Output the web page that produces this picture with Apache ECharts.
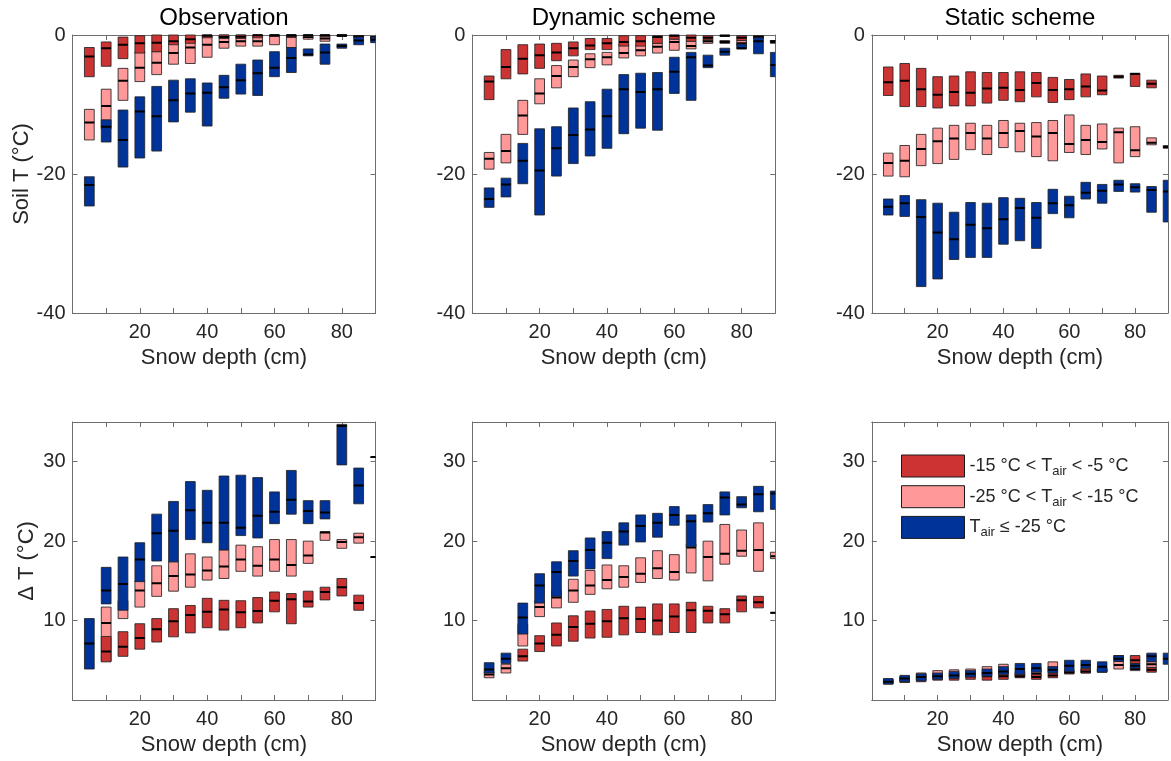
<!DOCTYPE html>
<html><head><meta charset="utf-8">
<script src="https://cdn.jsdelivr.net/npm/echarts@6/dist/echarts.min.js"></script>
<style>html,body{margin:0;padding:0;background:#fff}#c{width:1171px;height:761px}</style>
</head><body><div id="c"></div>
<script>
// Snow depth bins (cm)
const depths = [5,10,15,20,25,30,35,40,45,50,55,60,65,70,75,80,85,90];
const titles = ['Observation','Dynamic scheme','Static scheme'];
const xTickLabels = [20,40,60,80];
const soilTickLabels = [0,-20,-40];
const dtTickLabels = [10,20,30];
const legendLabels = {
  red: '-15 °C < T{sub|air} < -5 °C',
  pink: '-25 °C < T{sub|air} < -15 °C',
  blue: 'T{sub|air} ≤ -25 °C'
};
// each entry: [lower, median, upper] per depth
const obsSoilRed = [[-6.0,-3.1,-1.8],[-4.5,-1.9,-1.0],[-3.4,-1.4,-0.3],[-2.6,-1.2,-0.1],[-2.4,-1.1,0],[-1.4,-0.9,0],[-1.2,-0.6,0],[-0.4,-0.1,0],[-0.5,-0.3,0],[-0.5,-0.25,0],[-0.4,-0.05,0],[-0.2,-0.05,0],[-0.2,-0.05,0],[-0.2,-0.05,0],[-0.2,-0.05,0],[-0.1,-0.05,0],[-0.3,-0.2,-0.1],[-0.4,-0.3,-0.2]];
const obsSoilPink = [[-15.1,-12.6,-10.7],[-13.5,-10.2,-7.8],[-9.4,-6.6,-4.8],[-6.7,-4.7,-2.4],[-5.7,-4.0,-2.4],[-4.2,-2.6,-1.1],[-4.1,-1.8,-0.5],[-3.2,-1.4,0],[-1.9,-1.0,0],[-1.6,-0.9,0],[-1.6,-0.9,0],[-1.4,-0.1,0],[-1.8,-0.25,0],[-0.6,-0.3,0],[-0.9,-0.5,0],[-0.2,-0.1,0],[-0.4,-0.25,-0.1],[-0.6,-0.4,-0.3]];
const obsSoilBlue = [[-24.6,-21.6,-20.4],[-15.4,-13.2,-12.2],[-19.0,-15.1,-10.8],[-17.7,-11.0,-8.9],[-16.7,-11.7,-7.4],[-12.5,-9.4,-6.5],[-11.1,-8.4,-6.3],[-13.1,-8.3,-6.9],[-9.1,-7.5,-5.8],[-8.5,-6.5,-4.2],[-8.7,-5.5,-3.6],[-6.0,-4.7,-2.4],[-5.4,-3.3,-1.8],[-3.0,-2.8,-2.0],[-4.2,-2.5,-1.3],[-1.9,-1.6,-1.3],[-1.4,-0.8,-0.3],[-1.1,-0.7,-0.3]];

const dynSoilRed = [[-9.3,-6.7,-5.9],[-6.3,-4.6,-2.1],[-5.6,-3.4,-1.4],[-4.8,-2.9,-1.3],[-3.7,-2.5,-1.2],[-3.0,-1.9,-1.0],[-2.1,-1.5,-0.5],[-2.1,-1.2,-0.5],[-1.6,-1.0,-0.1],[-1.6,-0.9,-0.1],[-1.2,-0.3,-0.1],[-0.6,-0.1,0],[-0.9,-0.4,0],[-0.7,-0.4,-0.1],[-0.2,-0.1,0],[-0.8,-0.4,-0.1],[-0.5,-0.3,-0.1],[-1.0,-0.9,-0.8]];
const dynSoilPink = [[-19.3,-17.8,-16.9],[-18.4,-16.7,-14.3],[-14.3,-11.6,-9.4],[-9.9,-8.4,-6.3],[-7.6,-5.9,-4.4],[-6.0,-4.6,-3.6],[-4.7,-3.5,-2.7],[-4.3,-3.2,-2.5],[-3.3,-2.6,-1.3],[-3.0,-2.2,-1.4],[-2.6,-1.7,-1.2],[-2.2,-1.0,-0.6],[-2.0,-1.6,-0.9],[-1.2,-0.9,-0.7],[-1.2,-1.0,-0.8],[-1.5,-1.2,-0.8],[-0.5,-0.3,-0.1],[-1.2,-1.0,-0.8]];
const dynSoilBlue = [[-24.8,-23.6,-22.0],[-23.3,-21.5,-20.6],[-21.4,-18.1,-15.6],[-25.9,-19.5,-13.5],[-20.3,-16.3,-13.2],[-18.5,-14.4,-10.5],[-17.4,-13.6,-9.6],[-16.3,-11.7,-7.8],[-14.2,-7.8,-5.7],[-13.4,-8.2,-5.5],[-13.7,-7.8,-5.4],[-8.4,-5.3,-3.2],[-9.4,-3.2,-2.5],[-4.7,-4.4,-2.9],[-2.9,-2.4,-1.9],[-2.0,-1.9,-1.3],[-2.7,-0.9,-0.4],[-6.0,-4.3,-2.5]];

const statSoilRed = [[-8.7,-6.8,-4.6],[-10.3,-6.6,-4.1],[-10.3,-7.8,-4.8],[-10.5,-8.6,-6.0],[-10.2,-8.2,-5.9],[-10.2,-8.3,-5.3],[-9.8,-7.7,-5.4],[-9.4,-7.6,-5.4],[-9.6,-7.9,-5.3],[-8.9,-6.9,-5.4],[-9.7,-7.9,-6.1],[-9.3,-7.8,-6.4],[-8.9,-7.4,-5.6],[-8.6,-8.0,-5.9],[-6.2,-6.0,-5.8],[-7.4,-5.6,-5.5],[-7.6,-7.0,-6.5],null];
const statSoilPink = [[-20.3,-18.4,-17.0],[-20.4,-18.1,-15.9],[-18.8,-16.4,-14.3],[-18.5,-15.3,-13.4],[-17.9,-14.9,-13.0],[-16.5,-14.1,-12.7],[-17.2,-14.9,-13.0],[-16.2,-14.1,-12.3],[-16.8,-13.8,-12.7],[-17.5,-14.6,-12.6],[-18.1,-14.1,-12.3],[-16.9,-15.7,-11.5],[-17.2,-15.1,-13.0],[-16.4,-15.4,-12.8],[-18.4,-14.0,-13.4],[-17.5,-16.6,-13.2],[-15.8,-15.5,-14.8],[-16.3,-16.1,-15.9]];
const statSoilBlue = [[-25.9,-24.7,-23.6],[-26.1,-24.2,-23.1],[-36.2,-26.2,-23.7],[-35.1,-28.4,-24.2],[-32.3,-29.4,-25.5],[-32.0,-27.3,-24.1],[-32.0,-27.8,-24.2],[-30.1,-26.5,-23.4],[-29.6,-24.9,-23.5],[-30.7,-26.3,-24.1],[-25.7,-24.2,-22.2],[-26.3,-24.5,-23.2],[-23.6,-22.7,-21.2],[-24.2,-22.4,-21.5],[-22.5,-21.5,-20.9],[-22.6,-21.9,-21.4],[-25.5,-22.3,-21.8],[-26.9,-22.5,-20.9]];

const obsDTRed = [null,[4.8,6.1,8.0],[5.5,6.7,8.6],[6.4,7.8,9.6],[7.3,8.9,10.25],[7.95,9.9,11.5],[8.45,10.7,11.9],[9.1,11.1,12.8],[8.8,11.4,12.55],[9.1,11.05,12.5],[9.7,11.2,12.9],[11.1,12.5,13.6],[9.6,12.7,13.4],[11.7,12.4,13.7],[12.6,13.6,14.2],[13.1,14.2,15.3],[11.3,12.2,13.2],null];
const obsDTPink = [null,[4.9,9.7,11.7],[10.25,11.8,12.5],[11.7,13.8,15.0],[13.05,14.7,16.9],[13.7,15.6,17.4],[14.2,15.8,18.4],[15.1,16.3,18.0],[15.3,16.8,18.9],[16.2,17.7,19.5],[15.6,16.9,19.3],[16.2,17.7,20.2],[15.6,17.0,20.2],[17.2,18.2,20.0],[20.1,21.1,21.2],[19.1,19.9,20.2],[19.75,20.5,21.0],[18.0,18.0,18.0]];
const obsDTBlue = [[3.9,7.1,10.25],[12.1,13.8,16.7],[11.3,14.6,18.0],[14.9,17.7,19.8],[17.5,21.0,23.4],[17.4,21.3,25.0],[20.2,23.9,27.5],[19.8,22.3,26.4],[18.9,22.3,28.2],[20.7,21.7,28.3],[20.4,23.2,28.0],[22.2,23.7,26.2],[23.4,25.2,28.9],[22.2,23.8,25.1],[22.8,23.6,25.1],[29.6,34.5,34.7],[24.7,27.0,29.2],[30.6,30.6,30.6]];

const dynDTRed = [null,null,[4.9,5.5,6.4],[6.1,7.1,8.1],[6.8,8.2,9.7],[7.4,9.2,10.6],[7.8,9.6,11.2],[7.9,9.9,11.4],[8.2,10.3,11.8],[8.5,10.2,11.7],[8.2,10.0,12.1],[8.5,10.5,12.1],[8.5,11.3,12.3],[9.7,11.25,11.8],[9.7,10.8,11.5],[11.1,12.55,13.1],[11.6,12.3,13.05],[11.0,11.0,11.0]];
const dynDTPink = [[2.8,3.2,3.6],[3.4,4.0,4.5],[6.8,8.6,9.5],[10.5,11.7,12.5],[11.6,12.9,13.8],[12.3,13.8,15.2],[13.3,14.4,16.3],[14.0,15.1,17.0],[14.2,15.5,16.9],[14.8,15.9,17.9],[15.3,16.6,18.8],[15.1,16.1,18.3],[16.0,19.2,19.6],[15.0,18.0,20.0],[17.1,18.4,22.1],[18.1,18.8,21.4],[16.2,18.9,22.3],[17.8,18.1,18.6]];
const dynDTBlue = [[3.4,3.85,4.7],[4.6,5.2,5.9],[8.3,10.4,12.2],[12.2,14.4,15.9],[13.05,16.1,17.4],[15.6,17.5,18.8],[16.5,18.9,20.4],[17.8,19.8,21.2],[19.5,21.2,22.3],[19.9,21.9,23.3],[20.5,22.3,23.5],[22.0,23.3,24.35],[19.3,22.5,23.3],[22.4,23.5,24.6],[23.3,25.5,26.2],[24.2,24.6,25.6],[23.7,25.9,26.9],[24.0,26.0,26.3]];

const statDTRed = [[2.0,2.3,2.6],[2.2,2.6,2.9],[2.3,2.8,3.2],[2.5,2.9,3.3],[2.5,3.0,3.4],[2.6,3.0,3.4],[2.5,3.0,3.5],[2.6,3.0,3.6],[2.8,3.0,3.3],[2.6,2.9,3.2],[2.8,3.1,3.4],[3.3,3.5,3.7],[3.4,3.6,3.9],[3.5,3.7,4.0],[4.9,5.3,5.6],[4.6,5.0,5.6],[3.5,3.8,4.1],null];
const statDTPink = [[2.1,2.35,2.6],[2.3,2.7,3.0],[2.5,3.0,3.4],[2.8,3.2,3.7],[2.9,3.3,3.8],[3.0,3.5,3.9],[3.2,3.6,4.2],[3.3,3.8,4.5],[2.9,3.1,3.6],[3.0,3.3,3.9],[3.5,4.1,4.8],[3.3,3.5,3.7],[3.4,3.7,4.0],[3.6,3.75,3.9],[3.9,4.4,4.85],[3.7,3.9,4.1],[4.1,4.5,4.85],null];
const statDTBlue = [[2.0,2.3,2.7],[2.3,2.7,3.1],[2.4,2.9,3.3],[2.6,3.0,3.4],[2.7,3.1,3.6],[2.9,3.3,3.7],[3.0,3.4,3.9],[3.2,3.6,4.2],[3.2,3.9,4.6],[3.5,4.0,4.6],[3.4,3.8,4.2],[3.6,4.3,5.0],[4.0,4.4,5.0],[3.5,4.2,4.8],[4.85,5.2,5.6],[4.0,4.3,4.6],[4.8,5.5,5.9],[4.5,5.2,5.9]];

const FONT = 'Liberation Sans';
const TXT = '#262626';
const AX = '#6e6e6e';
const COLORS = {red:'#cc3333', pink:'#ff9999', blue:'#003399'};
const BOX_W = 2.9;

const panels = [
  {pink: obsSoilPink, red: obsSoilRed, blue: obsSoilBlue},
  {pink: dynSoilPink, red: dynSoilRed, blue: dynSoilBlue},
  {pink: statSoilPink, red: statSoilRed, blue: statSoilBlue},
  {pink: obsDTPink, red: obsDTRed, blue: obsDTBlue},
  {pink: dynDTPink, red: dynDTRed, blue: dynDTBlue},
  {pink: statDTPink, red: statDTRed, blue: statDTBlue}
];
const colLeft = [72.5, 472.3, 871.8];
const rowTop = [35, 422];
const PW = 303, PH = 278;

function toData(arr) {
  const out = [];
  arr.forEach((v, i) => { if (v) out.push([depths[i], v[0], v[1], v[2]]); });
  return out;
}

function renderBox(params, api) {
  const x = api.value(0), lo = api.value(1), med = api.value(2), hi = api.value(3);
  const pHi = api.coord([x, hi]), pLo = api.coord([x, lo]), pMed = api.coord([x, med]);
  const w = api.size([BOX_W, 0])[0];
  const cs = params.coordSys;
  const fill = api.visual('color');
  return {
    type: 'group',
    clipPath: {type: 'rect', shape: {x: cs.x, y: cs.y - 1, width: cs.width, height: cs.height + 2}},
    children: [
      {type: 'rect', shape: {x: pHi[0] - w / 2, y: pHi[1], width: w, height: Math.max(pLo[1] - pHi[1], 0.5)},
       style: {fill: fill, stroke: 'rgba(35,35,35,0.85)', lineWidth: 1}},
      {type: 'line', shape: {x1: pMed[0] - w / 2, y1: pMed[1], x2: pMed[0] + w / 2, y2: pMed[1]},
       style: {stroke: '#000', lineWidth: 2}}
    ]
  };
}

const grid = [], xAxis = [], yAxis = [], series = [];
panels.forEach((p, g) => {
  const row = g < 3 ? 0 : 1, col = g % 3;
  grid.push({left: colLeft[col], top: rowTop[row], width: PW, height: PH});
  const axLine = {show: true, onZero: false, lineStyle: {color: AX, width: 1}};
  const axTick = {show: true, inside: true, length: 5, lineStyle: {color: AX, width: 1}};
  xAxis.push({
    gridIndex: g, type: 'value', min: 0, max: 90, interval: 10, position: 'bottom',
    axisLine: axLine, axisTick: axTick, splitLine: {show: false},
    axisLabel: {color: TXT, fontSize: 20, fontFamily: FONT, margin: 9,
      formatter: v => xTickLabels.includes(v) ? String(v) : ''},
    name: 'Snow depth (cm)', nameLocation: 'middle', nameGap: 45,
    nameTextStyle: {color: TXT, fontSize: 22, fontFamily: FONT, verticalAlign: 'middle'}
  });
  xAxis.push({
    gridIndex: g, type: 'value', min: 0, max: 90, interval: 10, position: 'top',
    axisLine: axLine, axisTick: axTick, splitLine: {show: false}, axisLabel: {show: false},
    name: row === 0 ? titles[col] : '', nameLocation: 'middle', nameGap: 17,
    nameTextStyle: {color: '#000', fontSize: 24, fontFamily: FONT, verticalAlign: 'middle'}
  });
  const yMin = row === 0 ? -40 : 0, yMax = row === 0 ? 0 : 35, yInt = row === 0 ? 20 : 10;
  const yLabels = row === 0 ? soilTickLabels : dtTickLabels;
  yAxis.push({
    gridIndex: g, type: 'value', min: yMin, max: yMax, interval: yInt, position: 'left',
    axisLine: axLine, axisTick: axTick, splitLine: {show: false},
    axisLabel: {color: TXT, fontSize: 20, fontFamily: FONT, margin: 7,
      formatter: v => yLabels.includes(v) ? String(v) : ''},
    name: col === 0 ? (row === 0 ? 'Soil T (°C)' : 'Δ T (°C)') : '',
    nameLocation: 'middle', nameGap: 46,
    nameTextStyle: {color: TXT, fontSize: 22, fontFamily: FONT, verticalAlign: 'middle'}
  });
  yAxis.push({
    gridIndex: g, type: 'value', min: yMin, max: yMax, interval: yInt, position: 'right',
    axisLine: axLine, axisTick: axTick, splitLine: {show: false}, axisLabel: {show: false}
  });
  ['pink', 'red', 'blue'].forEach(k => {
    series.push({
      type: 'custom', name: k, xAxisIndex: 2 * g, yAxisIndex: 2 * g,
      itemStyle: {color: COLORS[k]},
      renderItem: renderBox, data: toData(p[k]), silent: true, animation: false
    });
  });
});

const chart = echarts.init(document.getElementById('c'), null, {renderer: 'canvas'});
chart.setOption({
  animation: false,
  backgroundColor: '#fff',
  grid, xAxis, yAxis, series,
  legend: {
    data: ['red', 'pink', 'blue'], orient: 'vertical', left: 901, top: 454,
    itemWidth: 63, itemHeight: 22, itemGap: 6.7, padding: 0, icon: 'rect',
    itemStyle: {borderColor: '#1a1a1a', borderWidth: 1},
    textStyle: {fontSize: 18, fontFamily: FONT, color: TXT, lineHeight: 24,
      rich: {sub: {fontSize: 13, fontFamily: FONT, color: TXT, lineHeight: 12, verticalAlign: 'bottom'}}},
    formatter: name => legendLabels[name],
    selectedMode: false
  }
});
</script></body></html>
